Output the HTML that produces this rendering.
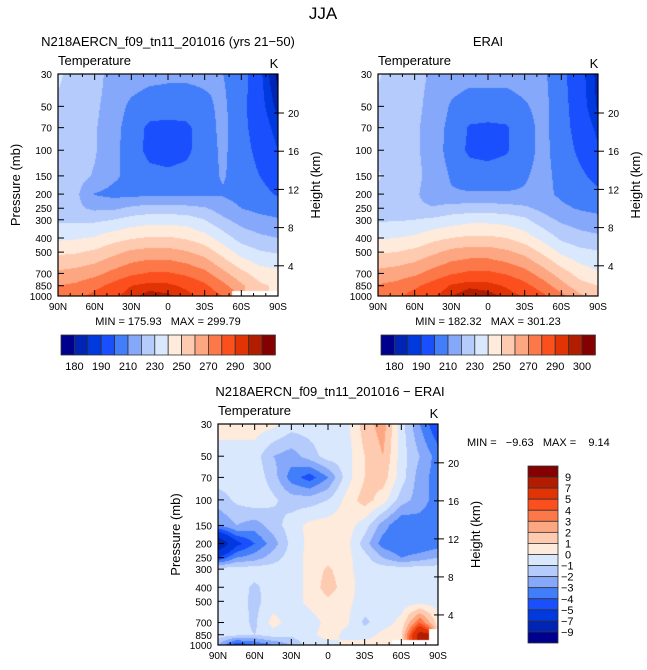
<!DOCTYPE html>
<html><head><meta charset="utf-8">
<style>
body{margin:0;background:#fff;width:647px;height:670px;overflow:hidden;font-family:"Liberation Sans",sans-serif;}
#wrap{position:relative;width:647px;height:670px;}
canvas{position:absolute;}
svg{position:absolute;left:0;top:0;}
text{font-family:"Liberation Sans",sans-serif;fill:#000;white-space:pre;}
</style></head>
<body>
<div id="wrap">
<canvas id="c1" width="220" height="222" style="left:58px;top:74px"></canvas>
<canvas id="c2" width="220" height="222" style="left:378px;top:74px"></canvas>
<canvas id="c3" width="220" height="221" style="left:218px;top:424px"></canvas>
<svg id="s" width="647" height="670"></svg>
</div>
<script>
const lats=[90,75,60,45,30,15,0,-15,-30,-45,-60,-75,-90];
const pres=[30,50,70,100,150,200,250,300,400,500,700,850,1000];
const N=NaN;
const modelT=[
[232,225,225,215,215,213,212,212,212,210,205,192,178],
[228,225,222,215,208,205,205,205,208,212,203,193,183],
[227,224,221,214,205,198,197,198,205,213,203,195,187],
[226,224,221,213,205,197,196,198,205,212,204,197,190],
[226,224,219,212,207,203,202,203,206,211,205,200,195],
[225,222,209.5,207,207,208,208,208,208,209,206,203,199],
[224,222,218,218,222,224,224,223,221,215,210,207,205],
[228,228,228,230,234,236,236,235,230,222,216,213,211],
[238,239,241,246,249,251,251,249,244,235,226,222,220],
[248,249,252,257,262,264,264,261,256,246,236,231,229],
[262,264,267,273,278,281,281,278,273,263,253,245,243],
[270,272,277,283,290,293,292,288,282,273,262,252,248],
[273,277,283,288,294,297,296,293,287,280,N,N,N]];
const eraiT=[
[231,226,224,218,214,213,213,213,214,212,203,193,183],
[228,225,223,216,209,206,206,206,209,213,204,194,184],
[227,224,222,215,207,199,198,199,206,213,204,196,188],
[227,225,222,215,206,198,197,199,206,213,205,198,191],
[231,226,223,216,209,205,204,205,209,213,207,202,197],
[228,225,222,214,211,211,211,211,211,213,208,205,202],
[226,224,222,221,224,225,225,224,222,217,212,209,207],
[229,229,230,232,235,237,237,236,232,224,218,215,213],
[239,240,242,247,250,252,252,250,245,237,228,224,222],
[249,250,253,258,263,265,265,262,257,248,238,233,231],
[263,265,268,274,279,282,282,279,274,265,255,246,241],
[271,273,278,284,291,294,293,289,283,275,264,254,250],
[274,278,284,289,295,298,297,294,289,282,273,262,255]];
const diffT=[
[0.5,0.5,0.5,0.3,-0.5,-0.5,-0.5,-0.3,1.5,2.5,-0.5,-3,-5],
[-0.5,-0.5,-0.5,-2,-2.5,-1.5,-0.5,-0.5,1,2,-0.5,-2,-3.5],
[-0.5,-0.5,-0.3,-1.5,-3.5,-4.5,-3,-0.5,1,1.5,-0.5,-2.5,-3.5],
[-1.5,-0.8,-0.3,-0.8,-1.5,-1.5,-1,0.3,1.5,0.5,-1.5,-2.5,-3.5],
[-3,-2,-2.5,-1.5,-0.5,0.3,0.5,0.5,-0.5,-2.5,-4,-3.5,-3.5],
[-9,-5.5,-4,-2.5,-0.7,0.3,0.5,0.4,-1.5,-3.5,-4,-4,-3.5],
[-5,-3,-2.5,-1.5,-0.5,0.3,0.5,0.3,-0.6,-2,-3,-2.5,-2],
[-0.5,-0.5,-0.5,-0.5,-0.5,0.3,1.2,0.3,-0.5,-0.5,-0.5,-0.5,-0.5],
[-0.5,-0.5,-1.2,-0.5,-0.5,0.3,1.5,0.5,-0.5,-0.5,-0.5,-0.5,-0.5],
[-0.5,-0.5,-1.3,-0.5,-0.5,0.3,0.8,0.3,-0.5,-0.5,-0.5,-0.5,-0.5],
[-0.5,-0.5,-1.2,0.4,-0.5,-0.5,0.3,0.2,-1.2,-0.5,0.3,4,0.5],
[-0.5,-0.7,-1,-0.5,-0.7,-0.3,0.5,-0.3,-0.5,0.3,0.8,8,N],
[-2,-5,-4,-3,-2,-0.5,-0.5,0.3,0.5,0.5,N,N,N]];
const tLevels=[180,185,190,200,210,220,230,240,250,260,270,280,290,295,300];
const tLabels=["180","190","210","230","250","270","290","300"];
const dLevels=[-9,-7,-5,-4,-3,-2,-1,0,1,2,3,4,5,7,9];
const dLabels=["9","7","5","4","3","2","1","0","\u22121","\u22122","\u22123","\u22124","\u22125","\u22127","\u22129"];
const presTicks=[30,50,70,100,150,200,250,300,400,500,700,850,1000];
const kmTicks=[4,8,12,16,20];
const latTicks=[90,60,30,0,-30,-60,-90];
const latNames=["90N","60N","30N","0","30S","60S","90S"];
const colors=["#00008e","#0024b3","#0039de","#1a4ffd","#427dfa","#85a8fb","#b5cbfc","#d9e8fd","#feebdb","#fecbb1","#fda782","#fd7848","#fc4f1e","#e23305","#b21d01","#850000"];

function rgb(h){return [parseInt(h.substr(1,2),16),parseInt(h.substr(3,2),16),parseInt(h.substr(5,2),16)];}
const W=220,H=222;
function ypx(p){return Math.log(p/30)/Math.log(1000/30)*H;}
function xpx(lat){return (90-lat)/180*W;}
const rowY=pres.map(ypx);
function sample(grid,px,py){
  let fx=px/W*12; let i=Math.min(11,Math.floor(fx)); let tx=fx-i;
  let j=0; while(j<11 && rowY[j+1]<py) j++;
  let ty=(py-rowY[j])/(rowY[j+1]-rowY[j]);
  const a=grid[j][i],b=grid[j][i+1],c=grid[j+1][i],d=grid[j+1][i+1];
  const ni=tx<0.5?i:i+1, nj=ty<0.5?j:j+1;
  if(isNaN(grid[nj][ni])) return NaN;
  const vals=[[a,(1-tx)*(1-ty)],[b,tx*(1-ty)],[c,(1-tx)*ty],[d,tx*ty]];
  let s=0,w=0; for(const [v,ww] of vals){ if(!isNaN(v)){s+=v*ww;w+=ww;} }
  return w>0?s/w:NaN;
}
function paint(id,grid,levels){
  const cv=document.getElementById(id),ctx=cv.getContext('2d');
  const h=cv.height,img=ctx.createImageData(W,h);
  const cols=colors.map(rgb);
  for(let y=0;y<h;y++)for(let x=0;x<W;x++){
    const v=sample(grid,x+0.5,(y+0.5)*H/h);
    let c=[255,255,255];
    if(!isNaN(v)){let k=0;while(k<levels.length&&v>=levels[k])k++;c=cols[k];}
    const o=(y*W+x)*4;img.data[o]=c[0];img.data[o+1]=c[1];img.data[o+2]=c[2];img.data[o+3]=255;
  }
  ctx.putImageData(img,0,0);
}
paint('c1',modelT,tLevels);paint('c2',eraiT,tLevels);paint('c3',diffT,dLevels);

const svg=document.getElementById('s');const NS='http://www.w3.org/2000/svg';
function el(tag,attrs,parent){const e=document.createElementNS(NS,tag);for(const k in attrs)e.setAttribute(k,attrs[k]);(parent||svg).appendChild(e);return e;}
function txt(x,y,s,size,anchor,name,rot){const t=el('text',{x:x,y:y,'font-size':size,'text-anchor':anchor||'middle'});


if(rot)t.setAttribute('transform','rotate(-90 '+x+' '+y+')');t.textContent=s;return t;}

function axes(x0,y0,h,pfx,showP){
  const g=el('g',{});
  
  
  const sc=h/H;
  el('rect',{x:x0,y:y0,width:W,height:h,fill:'none',stroke:'#000','stroke-width':1.2},g);
  for(let lat=90;lat>=-90;lat-=10){const x=x0+xpx(lat);
    const major=lat%30===0;const L=major?6:3;
    el('line',{x1:x,y1:y0+h,x2:x,y2:y0+h-L,stroke:'#000','stroke-width':1},g);
    el('line',{x1:x,y1:y0,x2:x,y2:y0+L,stroke:'#000','stroke-width':1},g);}
  latTicks.forEach((lat,i)=>{txt(x0+xpx(lat),y0+h+14,latNames[i],10,'middle',pfx+'-x-tick-label');});
  presTicks.forEach(p=>{const y=y0+ypx(p)*sc;
    el('line',{x1:x0,y1:y,x2:x0+6,y2:y,stroke:'#000','stroke-width':1},g);
    txt(x0-6,y+4,String(p),10,'end',pfx+'-y-tick-label');});
  kmTicks.forEach(k=>{const y=y0+h+8*sc-9.55*k*sc;
    el('line',{x1:x0+W,y1:y,x2:x0+W+6,y2:y,stroke:'#000','stroke-width':1},g);
    el('line',{x1:x0+W,y1:y,x2:x0+W-4,y2:y,stroke:'#000','stroke-width':1},g);
    txt(x0+W+10,y+4,String(k),10,'start',pfx+'-height-tick-label');});
  if(showP) txt(x0-38,y0+h/2,'Pressure (mb)',13,'middle',pfx+'-y-axis-title',true);
  txt(x0+W+42,y0+h/2,'Height (km)',13,'middle',pfx+'-height-axis-title',true);
  txt(x0,y0-9,'Temperature',13,'start',pfx+'-variable-label');
  txt(x0+W-4,y0-6,'K',13,'middle',pfx+'-units-label');
}
axes(58,74,222,'model',true);axes(378,74,222,'erai',false);axes(218,424,221,'diff',true);

txt(323,19,'JJA',17,'middle','figure-title');
txt(168,46,'N218AERCN_f09_tn11_201016 (yrs 21\u221250)',13,'middle','model-panel-title');
txt(488,46,'ERAI',13,'middle','erai-panel-title');
txt(330,396,'N218AERCN_f09_tn11_201016 \u2212 ERAI',13,'middle','diff-panel-title');
txt(168,325,'MIN = 175.93   MAX = 299.79',11,'middle','model-min-max');
txt(488,325,'MIN = 182.32   MAX = 301.23',11,'middle','erai-min-max');
txt(467,446,'MIN =   \u22129.63   MAX =    9.14',11,'start','diff-min-max');

function hbar(x0,name){const bw=13.4,y=335,h=20;
  colors.forEach((c,i)=>{const r=el('rect',{x:x0+i*bw,y:y,width:bw,height:h,fill:c,stroke:'#333','stroke-width':0.8});
    
    });
  tLabels.forEach((s,k)=>{const b=k<7?2*k+1:15;txt(x0+b*bw,370,s,11,'middle',name+'-label');});
}
hbar(61,'model-colorbar');hbar(381,'erai-colorbar');
(function(){const x=528,w=30,y0=466,bh=177/16;
  for(let i=0;i<16;i++){const r=el('rect',{x:x,y:y0+i*bh,width:w,height:bh,fill:colors[15-i],stroke:'#333','stroke-width':0.8});
    
    }
  dLabels.forEach((s,k)=>{txt(s.length>1?561:565,y0+(k+1)*bh+4,s,11,'start','diff-colorbar-label');});
})();
</script>
</body></html>
